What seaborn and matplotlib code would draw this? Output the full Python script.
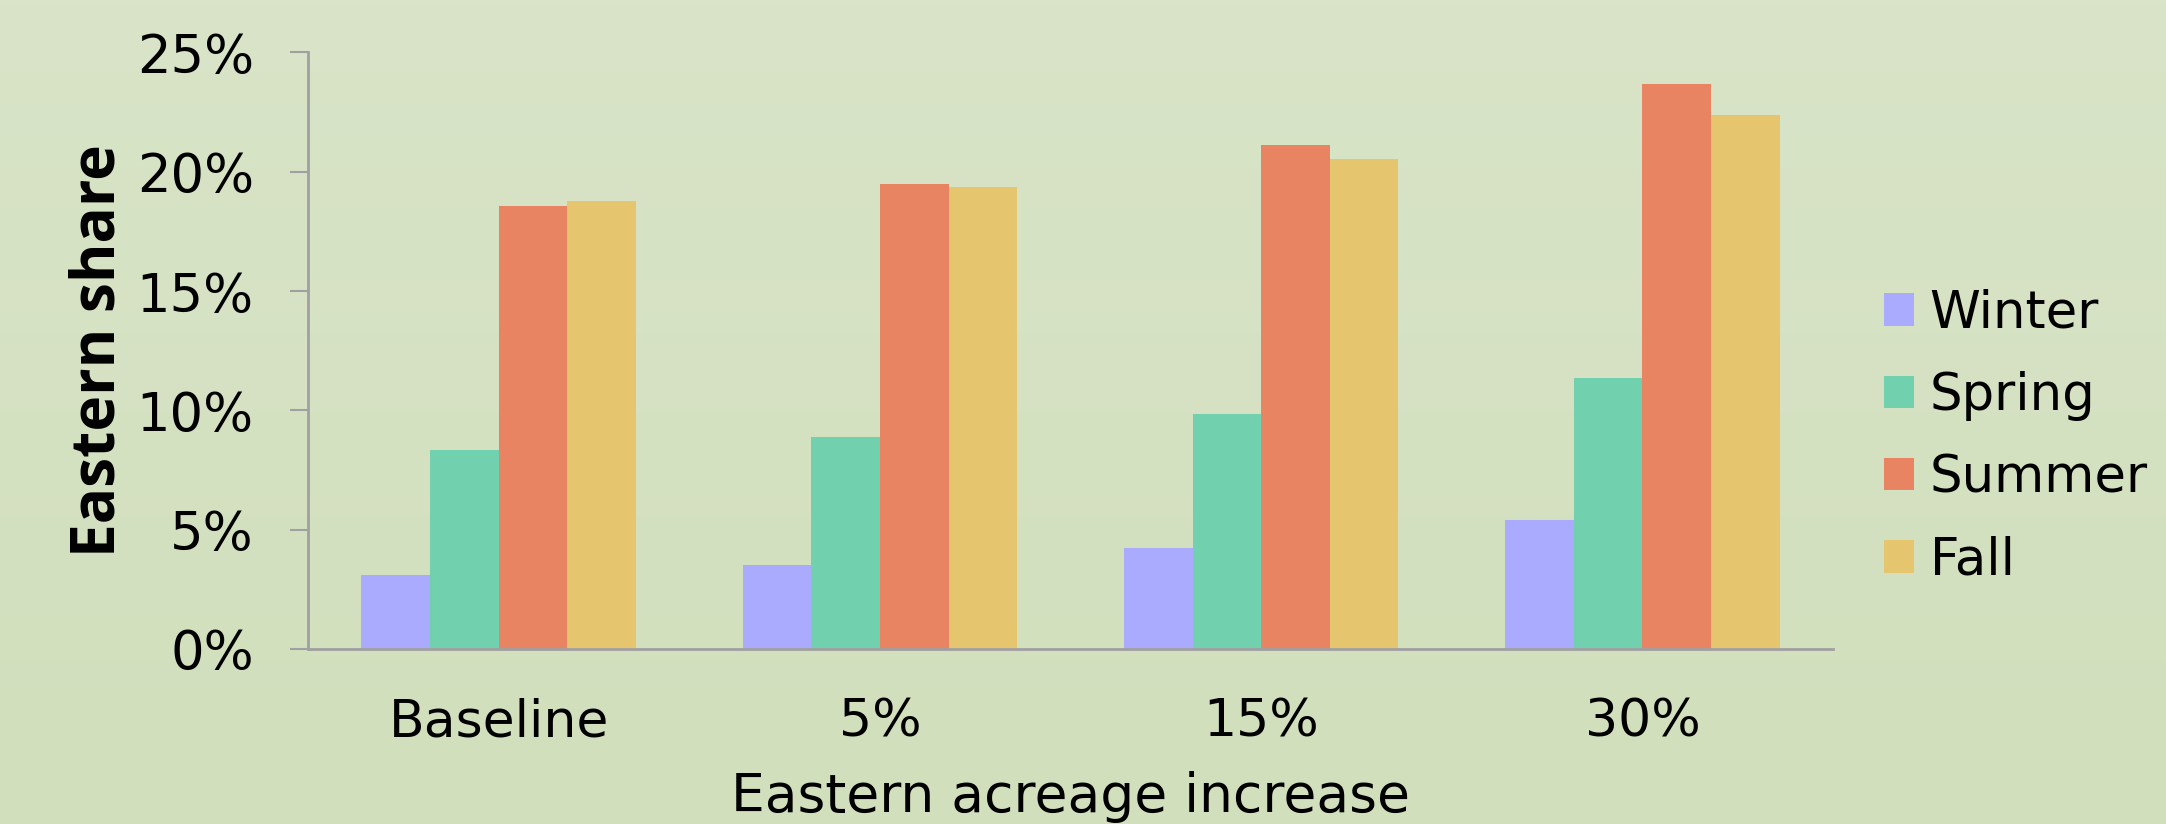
import numpy as np
import pandas as pd
import matplotlib.pyplot as plt
import seaborn as sns
from matplotlib.colors import LinearSegmentedColormap
from matplotlib.ticker import PercentFormatter

# Data (percent)
scenarios = ['Baseline', '5%', '15%', '30%']
seasons = ['Winter', 'Spring', 'Summer', 'Fall']
winter = [3.08, 3.52, 4.23, 5.40]
spring = [8.35, 8.89, 9.86, 11.37]
summer = [18.57, 19.48, 21.12, 23.68]
fall = [18.76, 19.37, 20.53, 22.36]
season_colors = ['#AAAAFF', '#71D1AE', '#E98462', '#E5C66F']

df = pd.DataFrame({
    'Scenario': scenarios * len(seasons),
    'Season': np.repeat(seasons, len(scenarios)),
    'Share': winter + spring + summer + fall,
})

sns.set_style('ticks')
plt.rcParams['font.family'] = ['DejaVu Sans']
plt.rcParams['text.color'] = 'black'
plt.rcParams['axes.labelcolor'] = 'black'
plt.rcParams['xtick.labelcolor'] = 'black'
plt.rcParams['ytick.labelcolor'] = 'black'

fig = plt.figure(figsize=(21.66, 8.24), dpi=100)

# soft green vertical gradient behind everything
bg = fig.add_axes([0, 0, 1, 1], zorder=-10)
grad = np.linspace(0, 1, 256).reshape(-1, 1)
bg_cmap = LinearSegmentedColormap.from_list('bg', ['#D9E4C8', '#D1DFBC'])
bg.imshow(grad, aspect='auto', cmap=bg_cmap, extent=[0, 1, 0, 1])
bg.axis('off')

ax = fig.add_axes([0.1422, 0.2124, 0.7041, 0.7239])
ax.patch.set_alpha(0)
sns.barplot(data=df, x='Scenario', y='Share', hue='Season',
            order=scenarios, hue_order=seasons, palette=season_colors,
            width=0.72, saturation=1, linewidth=0, ax=ax)

ax.set_ylim(0, 25)
ax.set_yticks(np.arange(0, 26, 5))
ax.yaxis.set_major_formatter(PercentFormatter(100, decimals=0))

for side in ['top', 'right']:
    ax.spines[side].set_visible(False)
for side in ['left', 'bottom']:
    ax.spines[side].set_color('#A0A0A0')
    ax.spines[side].set_linewidth(2)

ax.tick_params(axis='y', length=13, width=1.5, color='#A0A0A0', pad=26,
               labelsize=38, labelcolor='black')
ax.tick_params(axis='x', length=0, pad=35, labelsize=37.5, labelcolor='black')

ax.set_xlabel('Eastern acreage increase', fontsize=38.5, labelpad=17, color='black')
ax.set_ylabel('Eastern share', fontsize=43.5, fontweight='bold', color='black',
              family=['Open Sans', 'DejaVu Sans'], labelpad=5)

handles, labels = ax.get_legend_handles_labels()
ax.get_legend().remove()
fig.legend(handles, labels, loc='center left', bbox_to_anchor=(1884 / 2166, 0.4695),
           frameon=False, fontsize=37, handlelength=0.59, handleheight=0.59,
           handletextpad=0.3, labelspacing=0.63, borderpad=0, borderaxespad=0,
           labelcolor='black')

fig.savefig('out.png', dpi=100, facecolor=fig.get_facecolor())
